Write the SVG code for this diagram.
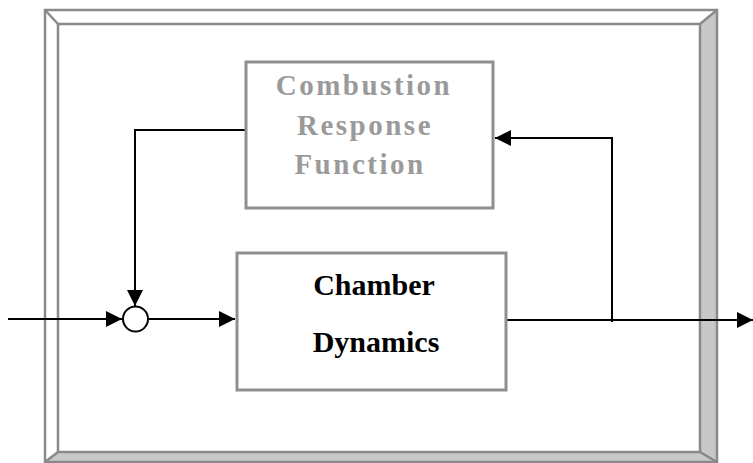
<svg xmlns="http://www.w3.org/2000/svg" width="753" height="463" viewBox="0 0 753 463">
<defs>
<style>
.frameline{fill:none;stroke:#8a8a8a;stroke-width:2.5}
.box{fill:#fff;stroke:#8f8f8f;stroke-width:3}
.wire{fill:none;stroke:#000;stroke-width:2}
.lbl{font-family:"Liberation Serif","Times New Roman",serif;font-weight:bold;text-anchor:middle}
</style>
<marker id="ah" viewBox="0 0 16 16" refX="16" refY="8" markerWidth="16" markerHeight="16" markerUnits="userSpaceOnUse" orient="auto">
<path d="M0,0 L16,8 L0,16 Z" fill="#000"/>
</marker>
</defs>
<rect width="753" height="463" fill="#fff"/>
<g id="frame">
<path d="M717,10 L717,462 L45,462 L58,452 L700,452 L700,24 Z" fill="#c8c8c8"/>
<rect class="frameline" x="45" y="10" width="672" height="452"/>
<rect class="frameline" x="58" y="24" width="642" height="428"/>
<path class="frameline" d="M45,10 L58,24 M717,10 L700,24 M45,462 L58,452 M717,462 L700,452"/>
</g>
<g id="connectors">
<path class="wire" d="M8,319 L122,319" marker-end="url(#ah)"/>
<path class="wire" d="M148,319 L235,319" marker-end="url(#ah)"/>
<path class="wire" d="M246,130 L135,130 L135,306" marker-end="url(#ah)"/>
<path class="wire" d="M507,320 L753,320" marker-end="url(#ah)"/>
<path class="wire" d="M612,322 L612,138 L495,138" marker-end="url(#ah)"/>
</g>
<g id="sum">
<circle cx="135.5" cy="319" r="12.5" fill="#fff" stroke="#000" stroke-width="2"/>
</g>
<g id="combustion">
<rect class="box" x="246" y="62" width="247" height="146"/>
<text class="lbl" font-size="29" letter-spacing="2.5" fill="#9a9a9a"><tspan x="364" y="95">Combustion</tspan><tspan x="365" y="135">Response</tspan><tspan x="360" y="174">Function</tspan></text>
</g>
<g id="chamber">
<rect class="box" x="237" y="253" width="269" height="137"/>
<text class="lbl" font-size="30" fill="#000"><tspan x="374" y="295">Chamber</tspan><tspan x="376" y="352">Dynamics</tspan></text>
</g>
</svg>
